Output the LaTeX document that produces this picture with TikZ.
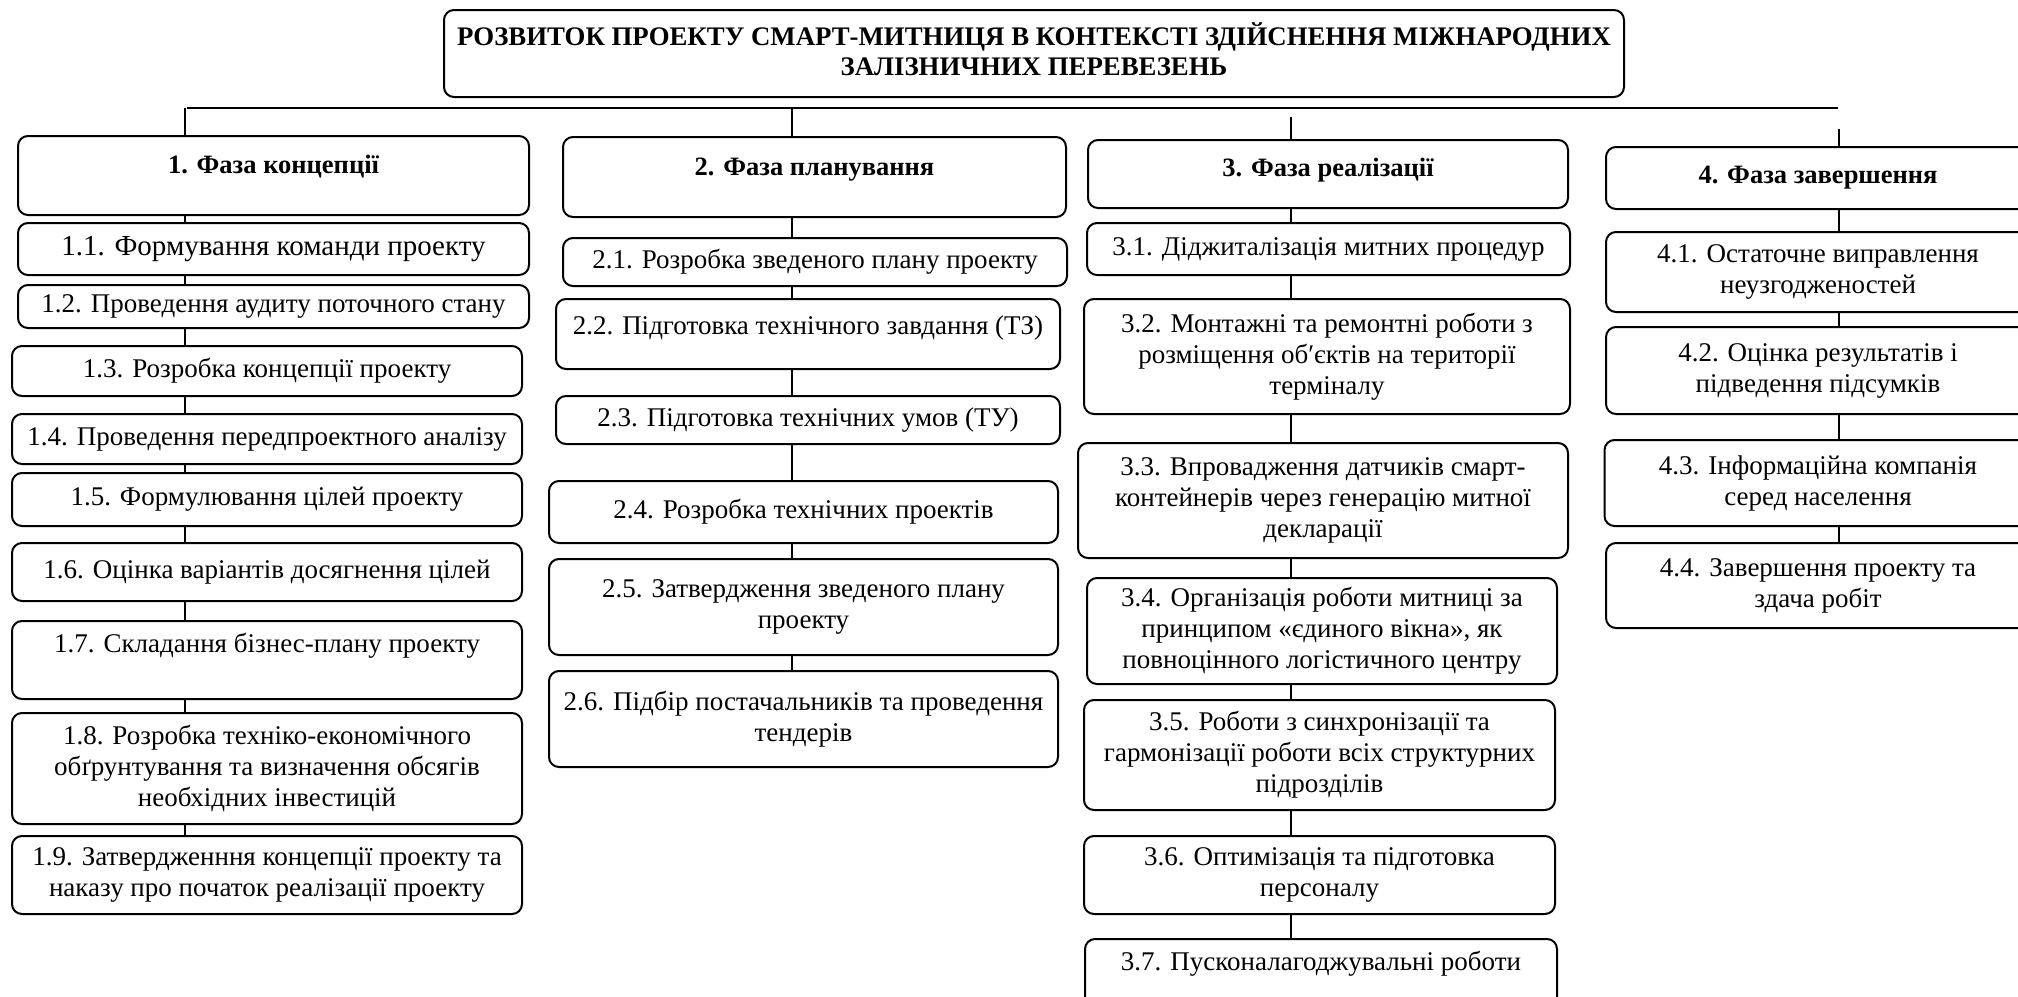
\documentclass[tikz,border=0pt]{standalone}
\usepackage{fontspec}
\setmainfont{Liberation Serif}
\usetikzlibrary{shapes}

\begin{document}
\begin{tikzpicture}[x=1pt, y=-1pt, line width=1.6pt,
	item/.style={draw, rounded corners=10pt, line width=2pt, align=center, inner sep=0pt, font=\fontsize{27}{31}\selectfont},
	phase/.style={item, font=\fontsize{26.5}{31}\selectfont\bfseries},
	wh/.style 2 args={minimum width=#1pt, minimum height=#2pt},
	uptext/.style={text depth=#1pt}]
		\useasboundingbox (0,0) rectangle (2018,996);
		\clip (0,0) rectangle (2018,996);
		% title
		\node[phase, wh={1180}{87}, uptext=9, font=\fontsize{26.8}{30}\selectfont\bfseries] (title) at (1034,53.5) {РОЗВИТОК ПРОЕКТУ СМАРТ-МИТНИЦЯ В КОНТЕКСТІ ЗДІЙСНЕННЯ МІЖНАРОДНИХ\\ЗАЛІЗНИЧНИХ ПЕРЕВЕЗЕНЬ};
		% bus
		\coordinate (bl) at (187,108);
		\coordinate (br) at (1838,108);
		\draw[line width=2.6pt] (bl) -- (br);
		\coordinate (c1) at (185,108);
		\coordinate (c2) at (792,108);
		\coordinate (c3) at (1291,117);
		\coordinate (c4) at (1839,129);
		% phase 1
		\node[phase, wh={511}{79}, uptext=23] (p1) at (273.5,175.5) {1. Фаза концепції};
		\node[item, wh={511}{52}, font=\fontsize{29}{33}\selectfont] (n11) at (273.5,249) {1.1. Формування команди проекту};
		\node[item, wh={511}{43}] (n12) at (273.5,306.5) {1.2. Проведення аудиту поточного стану};
		\node[item, wh={510}{50}] (n13) at (267,371) {1.3. Розробка концепції проекту};
		\node[item, wh={510}{50}] (n14) at (267,439) {1.4. Проведення передпроектного аналізу};
		\node[item, wh={510}{53}] (n15) at (267,499.5) {1.5. Формулювання цілей проекту};
		\node[item, wh={510}{58}] (n16) at (267,572) {1.6. Оцінка варіантів досягнення цілей};
		\node[item, wh={510}{78}, uptext=34] (n17) at (267,660) {1.7. Складання бізнес-плану проекту};
		\node[item, wh={510}{111}] (n18) at (267,768.5) {1.8. Розробка техніко-економічного\\обґрунтування та визначення обсягів\\необхідних інвестицій};
		\node[item, wh={510}{78}] (n19) at (267,875) {1.9. Затвердженння концепції проекту та\\наказу про початок реалізації проекту};
		\draw (c1) -- (p1.north -| c1) (p1.south -| c1) -- (n11.north -| c1)
			(n11.south -| c1) -- (n12.north -| c1) (n12.south -| c1) -- (n13.north -| c1)
			(n13.south -| c1) -- (n14.north -| c1) (n14.south -| c1) -- (n15.north -| c1)
			(n15.south -| c1) -- (n16.north -| c1) (n16.south -| c1) -- (n17.north -| c1)
			(n17.south -| c1) -- (n18.north -| c1) (n18.south -| c1) -- (n19.north -| c1);
		% phase 2
		\node[phase, wh={503}{80}, uptext=20] (p2) at (814.5,177) {2. Фаза планування};
		\node[item, wh={504}{48}] (n21) at (815,262) {2.1. Розробка зведеного плану проекту};
		\node[item, wh={504}{70}, uptext=18] (n22) at (808,334) {2.2. Підготовка технічного завдання (ТЗ)};
		\node[item, wh={504}{48}] (n23) at (808,420) {2.3. Підготовка технічних умов (ТУ)};
		\node[item, wh={509}{62}] (n24) at (803.5,512) {2.4. Розробка технічних проектів};
		\node[item, wh={509}{96}] (n25) at (803.5,607) {2.5. Затвердження зведеного плану\\проекту};
		\node[item, wh={509}{96}] (n26) at (803.5,719) {2.6. Підбір постачальників та проведення\\тендерів};
		\draw (c2) -- (p2.north -| c2) (p2.south -| c2) -- (n21.north -| c2)
			(n21.south -| c2) -- (n22.north -| c2) (n22.south -| c2) -- (n23.north -| c2)
			(n23.south -| c2) -- (n24.north -| c2) (n24.south -| c2) -- (n25.north -| c2)
			(n25.south -| c2) -- (n26.north -| c2);
		% phase 3
		\node[phase, wh={480}{68}, uptext=14] (p3) at (1328,174) {3. Фаза реалізації};
		\node[item, wh={483}{52}] (n31) at (1328.5,249) {3.1. Діджиталізація митних процедур};
		\node[item, wh={486}{115}] (n32) at (1327,356.5) {3.2. Монтажні та ремонтні роботи з\\розміщення об′єктів на території\\терміналу};
		\node[item, wh={490}{115}] (n33) at (1323,500.5) {3.3. Впровадження датчиків смарт-\\контейнерів через генерацію митної\\декларації};
		\node[item, wh={470}{106}] (n34) at (1322,631) {3.4. Організація роботи митниці за\\принципом «єдиного вікна», як\\повноцінного логістичного центру};
		\node[item, wh={471}{110}] (n35) at (1319.5,755) {3.5. Роботи з синхронізації та\\гармонізації роботи всіх структурних\\підрозділів};
		\node[item, wh={471}{78}] (n36) at (1319.5,875) {3.6. Оптимізація та підготовка\\персоналу};
		\node[item, wh={472}{80}, uptext=36] (n37) at (1321,979) {3.7. Пусконалагоджувальні роботи};
		\draw (c3) -- (p3.north -| c3) (p3.south -| c3) -- (n31.north -| c3)
			(n31.south -| c3) -- (n32.north -| c3) (n32.south -| c3) -- (n33.north -| c3)
			(n33.south -| c3) -- (n34.north -| c3) (n34.south -| c3) -- (n35.north -| c3)
			(n35.south -| c3) -- (n36.north -| c3) (n36.south -| c3) -- (n37.north -| c3);
		% phase 4
		\node[phase, wh={424}{62}] (p4) at (1818,178) {4. Фаза завершення};
		\node[item, wh={424}{80}] (n41) at (1818,272) {4.1. Остаточне виправлення\\неузгодженостей};
		\node[item, wh={424}{87}] (n42) at (1818,370.5) {4.2. Оцінка результатів і\\підведення підсумків};
		\node[item, wh={427}{86}] (n43) at (1818,483) {4.3. Інформаційна компанія\\серед населення};
		\node[item, wh={424}{85}] (n44) at (1818,585.5) {4.4. Завершення проекту та\\здача робіт};
		\draw (c4) -- (p4.north -| c4) (p4.south -| c4) -- (n41.north -| c4)
			(n41.south -| c4) -- (n42.north -| c4) (n42.south -| c4) -- (n43.north -| c4)
			(n43.south -| c4) -- (n44.north -| c4);
	\end{tikzpicture}
\end{document}
